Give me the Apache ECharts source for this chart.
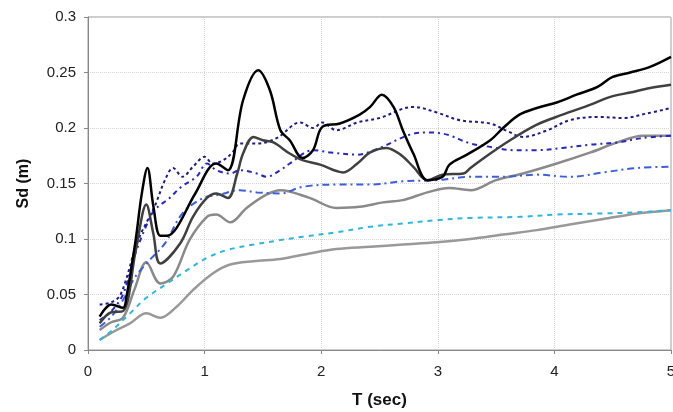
<!DOCTYPE html>
<html lang="en">
<head>
<meta charset="UTF-8">
<title>Sd - T</title>
<style>
  html, body { margin: 0; padding: 0; background: #fff; }
  #chart { width: 673px; height: 412px; }
</style>
</head>
<body>
<div id="chart"></div>
<script src="https://cdn.jsdelivr.net/npm/echarts@6/dist/echarts.min.js"></script>
<script>
// [T (sec), Sd (m)]
var blackSolid = [[0.1,0.030],[0.2,0.041],[0.3,0.038],[0.33,0.048],[0.41,0.100],[0.46,0.140],[0.51,0.164],[0.56,0.130],[0.62,0.103],[0.68,0.103],[0.76,0.110],[0.92,0.141],[1.1,0.168],[1.2,0.162],[1.33,0.225],[1.46,0.252],[1.56,0.234],[1.65,0.198],[1.73,0.189],[1.84,0.173],[1.93,0.180],[2.01,0.201],[2.16,0.204],[2.33,0.212],[2.42,0.219],[2.52,0.230],[2.62,0.219],[2.7,0.198],[2.79,0.177],[2.91,0.153],[3.04,0.156],[3.1,0.167],[3.25,0.176],[3.45,0.189],[3.56,0.200],[3.7,0.212],[3.85,0.218],[4.02,0.223],[4.19,0.230],[4.37,0.237],[4.5,0.246],[4.65,0.250],[4.82,0.255],[5,0.264]];
var darkGraySolid = [[0.1,0.024],[0.2,0.034],[0.3,0.035],[0.41,0.090],[0.5,0.131],[0.56,0.105],[0.62,0.078],[0.79,0.096],[0.9,0.120],[1.02,0.137],[1.1,0.141],[1.2,0.137],[1.28,0.159],[1.33,0.177],[1.42,0.192],[1.5,0.189],[1.59,0.187],[1.73,0.177],[1.84,0.171],[1.99,0.167],[2.19,0.160],[2.31,0.168],[2.42,0.178],[2.56,0.182],[2.68,0.176],[2.79,0.165],[2.91,0.153],[3.04,0.158],[3.22,0.159],[3.28,0.164],[3.45,0.177],[3.62,0.189],[3.85,0.203],[4.07,0.212],[4.31,0.221],[4.48,0.228],[4.65,0.232],[4.82,0.236],[5,0.239]];
var graySolid = [[0.1,0.018],[0.2,0.025],[0.3,0.029],[0.4,0.055],[0.5,0.079],[0.62,0.060],[0.73,0.066],[0.87,0.099],[1.02,0.120],[1.1,0.122],[1.22,0.115],[1.36,0.128],[1.53,0.140],[1.65,0.144],[1.9,0.137],[2.13,0.128],[2.33,0.129],[2.53,0.133],[2.7,0.135],[2.91,0.142],[3.1,0.146],[3.28,0.144],[3.5,0.153],[3.73,0.159],[4.02,0.168],[4.31,0.178],[4.54,0.187],[4.76,0.193],[5,0.193]];
var lightGraySolid = [[0.1,0.009],[0.21,0.016],[0.36,0.024],[0.5,0.033],[0.62,0.029],[0.76,0.039],[0.9,0.054],[1.07,0.069],[1.22,0.077],[1.42,0.080],[1.65,0.082],[1.9,0.087],[2.13,0.091],[2.42,0.093],[2.7,0.095],[2.99,0.097],[3.28,0.100],[3.56,0.104],[3.85,0.108],[4.13,0.113],[4.42,0.118],[4.71,0.123],[5,0.126]];
var navyDotted = [[0.1,0.041],[0.2,0.043],[0.28,0.050],[0.43,0.099],[0.57,0.129],[0.66,0.153],[0.73,0.164],[0.81,0.156],[0.9,0.165],[1.0,0.174],[1.07,0.168],[1.16,0.171],[1.24,0.178],[1.3,0.186],[1.45,0.186],[1.62,0.191],[1.82,0.205],[1.93,0.200],[2.01,0.205],[2.13,0.198],[2.31,0.205],[2.5,0.209],[2.79,0.219],[2.99,0.214],[3.19,0.207],[3.45,0.204],[3.6,0.197],[3.73,0.192],[3.94,0.198],[4.13,0.207],[4.37,0.210],[4.59,0.209],[4.79,0.213],[5,0.218]];
var blueDashDot = [[0.1,0.027],[0.2,0.035],[0.3,0.050],[0.4,0.085],[0.5,0.112],[0.57,0.126],[0.7,0.137],[0.8,0.147],[0.93,0.156],[1.02,0.168],[1.1,0.162],[1.22,0.159],[1.3,0.162],[1.45,0.159],[1.53,0.156],[1.65,0.162],[1.73,0.168],[1.93,0.180],[2.08,0.178],[2.31,0.176],[2.5,0.182],[2.76,0.194],[2.93,0.196],[3.08,0.194],[3.28,0.186],[3.45,0.183],[3.65,0.180],[3.85,0.180],[4.07,0.182],[4.31,0.185],[4.54,0.187],[4.76,0.191],[5,0.193]];
var blueDashed = [[0.1,0.021],[0.2,0.030],[0.3,0.045],[0.4,0.065],[0.51,0.079],[0.66,0.096],[0.81,0.123],[0.99,0.137],[1.13,0.140],[1.3,0.144],[1.45,0.142],[1.65,0.141],[1.84,0.147],[2.13,0.149],[2.42,0.149],[2.7,0.152],[2.99,0.153],[3.28,0.156],[3.56,0.156],[3.85,0.158],[4.13,0.156],[4.42,0.160],[4.71,0.164],[5,0.165]];
var cyanDashed = [[0.1,0.009],[0.21,0.018],[0.36,0.033],[0.5,0.047],[0.68,0.060],[0.85,0.072],[1.02,0.083],[1.19,0.090],[1.42,0.095],[1.65,0.099],[1.84,0.102],[2.13,0.106],[2.42,0.111],[2.7,0.114],[2.99,0.117],[3.28,0.119],[3.7,0.120],[4.02,0.122],[4.42,0.123],[4.71,0.124],[5,0.126]];

function line(data, color, width, type, z) {
  return {
    type: 'line',
    data: data,
    smooth: 0.35,
    showSymbol: false,
    z: z,
    lineStyle: { color: color, width: width, type: type }
  };
}

var chart = echarts.init(document.getElementById('chart'));
var labelFont = { color: '#222', fontSize: 15, fontFamily: 'Liberation Sans, Arial, sans-serif' };

chart.setOption({
  animation: false,
  grid: { left: 88, right: 2, top: 17, bottom: 62, show: true, borderColor: '#9a9a9a', borderWidth: 1, containLabel: false, outerBoundsMode: 'none' },
  xAxis: {
    type: 'value', min: 0, max: 5, interval: 1,
    name: 'T (sec)', nameLocation: 'middle', nameGap: 42,
    nameTextStyle: { color: '#111', fontSize: 17, fontWeight: 'bold', fontFamily: 'Liberation Sans, Arial, sans-serif' },
    axisLine: { lineStyle: { color: '#888' } },
    axisTick: { show: true, length: 4, lineStyle: { color: '#888' } },
    axisLabel: Object.assign({ margin: 14, hideOverlap: false }, labelFont),
    splitLine: { show: true, lineStyle: { color: '#d4d4d4', type: 'dotted' } }
  },
  yAxis: {
    type: 'value', min: 0, max: 0.3, interval: 0.05,
    name: 'Sd (m)', nameLocation: 'middle', nameGap: 56,
    nameTextStyle: { color: '#111', fontSize: 16, fontWeight: 'bold', fontFamily: 'Liberation Sans, Arial, sans-serif' },
    axisLine: { show: true, lineStyle: { color: '#888' } },
    axisTick: { show: true, length: 4, lineStyle: { color: '#888' } },
    axisLabel: Object.assign({ margin: 12 }, labelFont),
    splitLine: { show: true, lineStyle: { color: '#d4d4d4', type: 'dotted' } }
  },
  series: [
    line(lightGraySolid, '#999999', 2.5, 'solid', 2),
    line(cyanDashed, '#2ab8e0', 2, [5, 5], 3),
    line(graySolid, '#8a8a8a', 2.5, 'solid', 2),
    line(blueDashed, '#3a5fe0', 2, [7, 4, 2, 4], 3),
    line(blueDashDot, '#2626c8', 2, [5, 4, 2, 4], 3),
    line(navyDotted, '#1c1c8a', 2, [3, 3], 3),
    line(darkGraySolid, '#404040', 2.5, 'solid', 4),
    line(blackSolid, '#000000', 2.5, 'solid', 5)
  ]
});
</script>
</body>
</html>
